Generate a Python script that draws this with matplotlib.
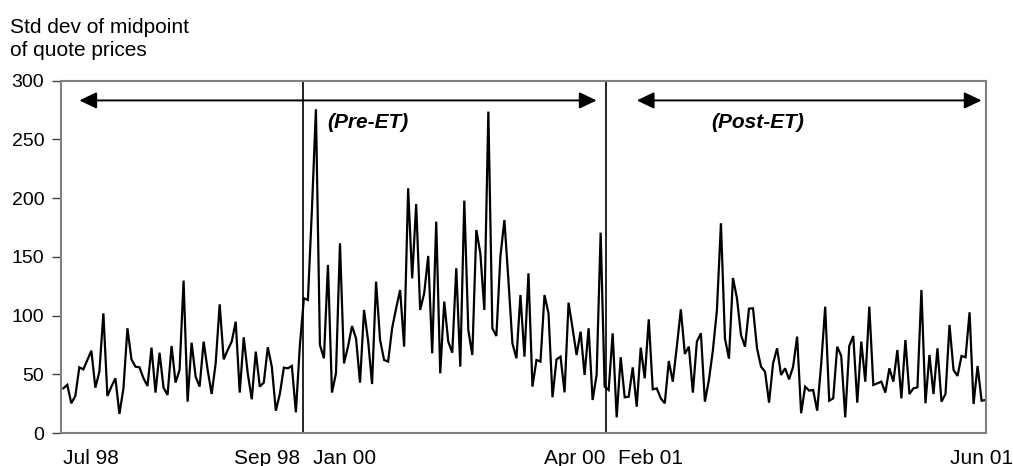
import numpy as np
import matplotlib
matplotlib.use("Agg")
import matplotlib.pyplot as plt

# ---- data ----
seg_jul_sep_98 = [38, 41, 25.3, 31.5, 55.9, 54.2, 62.2, 70.1, 38.6, 52.2, 101.9, 31.5, 39.5, 46.6, 16.2,
                  38, 89.2, 62.7, 56.5, 55.9, 46.6, 40, 72.7, 34.4, 68.4, 38.6, 32.4, 74.1, 42.9, 53.7,
                  129.8, 26.7, 76.9, 48, 39.5, 77.8, 53.7, 33.2, 59.3, 109.6, 62.7, 70.7, 77.8, 94.8, 34.4,
                  81.5, 50.8, 28.7, 69.3, 39.5, 42.9, 73, 56.5, 19, 33.2, 55.6, 55.1, 57.1, 17.6, 74.7]
seg_jan_apr_00 = [114.7, 113.3, 190, 275.7, 75, 63.6, 143.1, 34.4, 50.8, 161.6, 59.3, 73.5, 91.1, 80.6,
                  42.9, 104.8, 79, 41.7, 128.9, 79.2, 62.2, 60.8, 89.2, 106.2, 121.8, 73.5, 208.4, 131.7,
                  195, 104.8, 119, 150.8, 67.9, 180, 50.8, 111.9, 77.8, 68.4, 140.3, 56.5, 197.9, 87.7,
                  66.4, 172.9, 153, 104.8, 273.7, 89.2, 82.6, 150.2, 181.4, 130.3, 76.4, 63.6, 117.5, 65,
                  136, 39.5, 62.2, 60.8, 117.5, 101.9, 30.4, 62.7, 65, 34.6, 111, 89.2, 66.4, 86.3, 49.4,
                  89.2, 28.1, 49.4, 170.6, 39.5]
seg_feb_jun_01 = [36.6, 84.9, 13.3, 64.5, 30.4, 30.9, 55.9, 22.4, 72.7, 46.6, 96.8, 37.2, 38, 29.5, 25.3,
                  61.3, 43.7, 73.5, 105.3, 67.3, 73.5, 34.4, 77.8, 84.9, 26.7, 45.1, 70.7, 104.8, 178.6,
                  80.6, 63.3, 132, 114.7, 83.5, 73.5, 105.9, 106.2, 72.1, 56.5, 52.2, 25.8, 59.3, 72.1,
                  49.4, 55.1, 45.7, 56.5, 82.1, 16.8, 39.5, 36.1, 36.6, 19, 58.8, 107.6, 27.5, 29.5, 73.5,
                  65.6, 13.3, 74.1, 82.6, 25.8, 77.8, 43.7, 107.6, 40.9, 42.3, 43.7, 34.4, 55.1, 43.7,
                  70.7, 29.5, 79.2, 33.2, 38, 38.9, 121.8, 25.3, 66.4, 33.2, 72.1, 26.7, 33.2, 92, 53.7,
                  48.6, 65.6, 64.5, 102.8, 24.7, 57.1, 27.5, 28.1]

tick_labels = ["Jul 98", "Sep 98", "Jan 00", "Apr 00", "Feb 01", "Jun 01"]
tick_pos = [7.0, 50.7, 70.2, 127.5, 146.4, 229.0]
period_labels = ["(Pre-ET)", "(Post-ET)"]
y_title = ["Std dev of midpoint", "of quote prices"]

values = np.array(seg_jul_sep_98 + seg_jan_apr_00 + seg_feb_jun_01)
x = np.arange(len(values))
n1 = len(seg_jul_sep_98)
n2 = len(seg_jan_apr_00)

plt.rcParams['font.family'] = ['Liberation Sans', 'DejaVu Sans']

fig = plt.figure(figsize=(10.13, 4.66), dpi=100)
ax = fig.add_axes([61 / 1013, 1 - 433 / 466, (986 - 61) / 1013, (433 - 80.7) / 466])

ax.plot(x, values, color='black', lw=1.6, solid_joinstyle='miter')

ax.set_xlim(-0.57, len(values) - 0.9)
ax.set_ylim(0, 300)
ax.set_yticks(np.arange(0, 301, 50))
ax.set_xticks(tick_pos)
ax.set_xticklabels(tick_labels)

for s in ax.spines.values():
    s.set_color('#808080')
    s.set_linewidth(1.5)

ax.tick_params(axis='y', length=6.5, width=1.0, color='#404040', labelsize=14, pad=5.5)
ax.tick_params(axis='x', length=0, labelsize=15, pad=11.5)

# vertical separators
ax.axvline(n1 - 0.3, color='black', lw=1.2)
ax.axvline(n1 + n2 - 0.7, color='black', lw=1.2)

# double-headed arrows
arrow_y = 283.2
aprops = dict(arrowstyle='<|-|>,head_length=1.05,head_width=0.5', mutation_scale=10,
              lw=1.4, color='black', shrinkA=0, shrinkB=0)
ax.annotate('', xy=(4.0, arrow_y), xytext=(133.0, arrow_y), arrowprops=aprops)
ax.annotate('', xy=(143.0, arrow_y), xytext=(229.0, arrow_y), arrowprops=aprops)

ax.text(75.9, 264, period_labels[0], ha='center', va='center', fontsize=15,
        fontweight='bold', fontstyle='italic')
ax.text(173.1, 264.5, period_labels[1], ha='center', va='center', fontsize=15,
        fontweight='bold', fontstyle='italic')

fig.text(10 / 1013, 1 - 32.7 / 466, y_title[0], ha='left', va='baseline', fontsize=15)
fig.text(10 / 1013, 1 - 56.0 / 466, y_title[1], ha='left', va='baseline', fontsize=15)

fig.savefig('out.png', dpi=100)
